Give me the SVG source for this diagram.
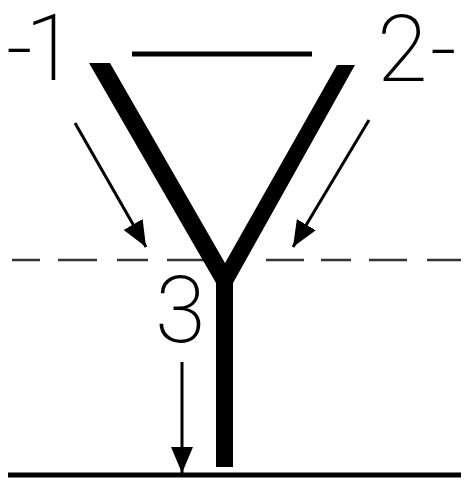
<svg xmlns="http://www.w3.org/2000/svg" width="468" height="480" viewBox="0 0 468 480">
<style>
.lbl{font-family:Roboto,"Liberation Sans",sans-serif;font-weight:200;font-size:92px;fill:#000}
.arr{stroke:#000;stroke-width:3;fill:none}
.dash{stroke:#333;stroke-width:2.5}
</style>
<defs>
<marker id="ah2" viewBox="0 0 26 22" refX="26" refY="11" markerWidth="26" markerHeight="22" markerUnits="userSpaceOnUse" orient="auto">
<path d="M0,0 L26,11 L0,22 Z" fill="#000"/>
</marker>
</defs>
<g id="background"><rect width="468" height="480" fill="#fff"/></g>
<g id="top-line"><line x1="132" y1="54" x2="312" y2="54" stroke="#000" stroke-width="5"/></g>
<g id="ground"><line x1="8" y1="475" x2="461" y2="475" stroke="#000" stroke-width="5"/></g>
<g id="dashed-line">
<line class="dash" x1="12" y1="260" x2="40" y2="260"/>
<line class="dash" x1="58" y1="260" x2="97" y2="260"/>
<line class="dash" x1="117" y1="260" x2="148" y2="260"/>
<line class="dash" x1="167" y1="260" x2="205" y2="260"/>
<line class="dash" x1="266" y1="260" x2="304" y2="260"/>
<line class="dash" x1="321" y1="260" x2="351" y2="260"/>
<line class="dash" x1="369" y1="260" x2="407" y2="260"/>
<line class="dash" x1="427" y1="260" x2="461" y2="260"/>
</g>
<g id="Y"><polygon points="89,63 110,63 225,263 337,65 355,65 233,283 233,467 216,467 216,283" fill="#000"/></g>
<g id="connectors">
<line class="arr" x1="75" y1="123" x2="146" y2="247" marker-end="url(#ah2)"/>
<line class="arr" x1="369" y1="120" x2="293" y2="247" marker-end="url(#ah2)"/>
<line class="arr" x1="182" y1="362" x2="182" y2="473" marker-end="url(#ah2)"/>
</g>
<g id="label-1"><text class="lbl" y="80"><tspan x="6">-</tspan><tspan x="25">1</tspan></text></g>
<g id="label-2"><text class="lbl" y="81"><tspan x="377">2</tspan><tspan x="430">-</tspan></text></g>
<g id="label-3"><text class="lbl" x="155" y="342">3</text></g>
</svg>
